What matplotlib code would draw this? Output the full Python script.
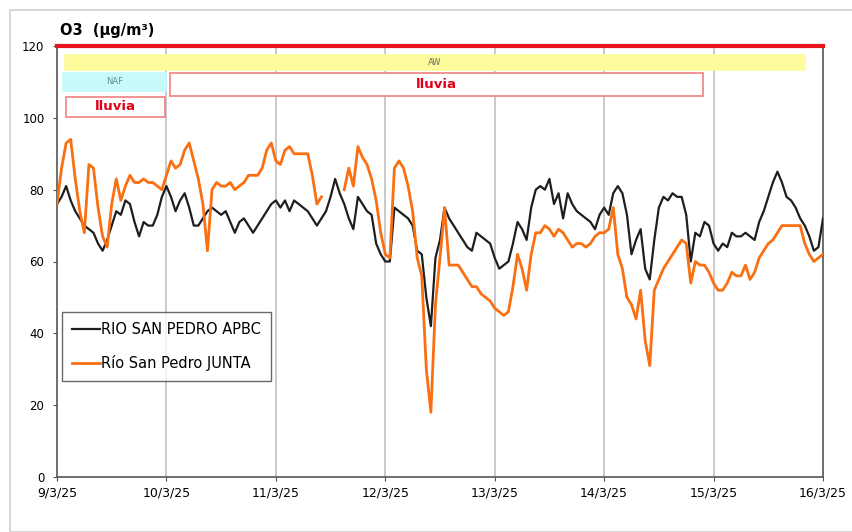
import matplotlib
matplotlib.use("Agg")
import matplotlib.pyplot as plt
import matplotlib.dates as mdates
from matplotlib.patches import Rectangle
import numpy as np
import pandas as pd

# hourly O3 values, 9/3/25 00h .. 16/3/25 00h
apbc = [76, 78, 81, 77, 74, 72, 70, 69, 68, 65, 63, 66, 70, 74, 73, 77, 76, 71, 67, 71, 70, 70, 73, 78,
        81, 78, 74, 77, 79, 75, 70, 70, 72, 74, 75, 74, 73, 74, 71, 68, 71, 72, 70, 68, 70, 72, 74, 76,
        77, 75, 77, 74, 77, 76, 75, 74, 72, 70, 72, 74, 78, 83, 79, 76, 72, 69, 78, 76, 74, 73, 65, 62,
        60, 60, 75, 74, 73, 72, 70, 63, 62, 50, 42, 61, 66, 75, 72, 70, 68, 66, 64, 63, 68, 67, 66, 65,
        61, 58, 59, 60, 65, 71, 69, 66, 75, 80, 81, 80, 83, 76, 79, 72, 79, 76, 74, 73, 72, 71, 69, 73,
        75, 73, 79, 81, 79, 73, 62, 66, 69, 58, 55, 66, 75, 78, 77, 79, 78, 78, 73, 60, 68, 67, 71, 70,
        65, 63, 65, 64, 68, 67, 67, 68, 67, 66, 71, 74, 78, 82, 85, 82, 78, 77, 75, 72, 70, 67, 63, 64,
        72]
junta = [76, 86, 93, 94, 83, 74, 68, 87, 86, 75, 67, 64, 76, 83, 77, 81, 84, 82, 82, 83, 82, 82, 81, 80,
         84, 88, 86, 87, 91, 93, 88, 83, 76, 63, 80, 82, 81, 81, 82, 80, 81, 82, 84, 84, 84, 86, 91, 93,
         88, 87, 91, 92, 90, 90, 90, 90, 84, 76, 78, None, None, None, None, 80, 86, 81, 92, 89, 87, 83, 77, 68,
         62, 61, 86, 88, 86, 81, 74, 61, 56, 30, 18, 48, 61, 75, 59, 59, 59, 57, 55, 53, 53, 51, 50, 49,
         47, 46, 45, 46, 53, 62, 58, 52, 62, 68, 68, 70, 69, 67, 69, 68, 66, 64, 65, 65, 64, 65, 67, 68,
         68, 69, 75, 62, 58, 50, 48, 44, 52, 38, 31, 52, 55, 58, 60, 62, 64, 66, 65, 54, 60, 59, 59, 57,
         54, 52, 52, 54, 57, 56, 56, 59, 55, 57, 61, 63, 65, 66, 68, 70, 70, 70, 70, 70, 65, 62, 60, 61,
         62]
day_labels = ["9/3/25", "10/3/25", "11/3/25", "12/3/25", "13/3/25", "14/3/25", "15/3/25", "16/3/25"]
limit = 120

# episodes: (start, end, y_low, y_high, label, face, edge, text colour, bold)
episodes = [
    ("2025-03-09 01:45", "2025-03-15 20:00", 113.4, 117.5, "AW", "#fdfb9c", "#fdfb9c", "#666666", False),
    ("2025-03-09 01:15", "2025-03-10 00:00", 107.5, 112.5, "NAF", "#c8fafc", "#c8fafc", "#6a8a8a", False),
    ("2025-03-10 00:50", "2025-03-14 21:40", 106.0, 112.5, "lluvia", "white", "#f08080", "#e0001a", True),
    ("2025-03-09 02:00", "2025-03-09 23:40", 100.3, 105.8, "lluvia", "white", "#f08080", "#e0001a", True),
]

times = pd.date_range("2025-03-09 00:00", periods=len(apbc), freq="h")
s1 = np.array(apbc, dtype=float)
s2 = np.array([np.nan if v is None else v for v in junta], dtype=float)

fig = plt.figure(figsize=(8.53, 5.32), dpi=100)
fig.patches.append(Rectangle((10 / 853, 0), 1, 1 - 10 / 532, transform=fig.transFigure,
                             fill=False, edgecolor="#d0d0d0", linewidth=1.2))
ax = fig.add_axes([57 / 853, 55 / 532, 766 / 853, 431 / 532])

days = pd.date_range("2025-03-09", periods=8, freq="D")
for d in days[1:-1]:
    ax.axvline(d, color="#c0c0c0", linewidth=1.2, zorder=1)

ax.plot(times, s1, color="#1e1e1e", linewidth=1.6, label="RIO SAN PEDRO APBC", zorder=3)
ax.plot(times, s2, color="#f96f12", linewidth=2.0, label="Río San Pedro JUNTA", zorder=3)
ax.axhline(limit, color="#e8141c", linewidth=3, zorder=4, clip_on=False)

for start, end, y0, y1, txt, face, edge, tc, bold in episodes:
    x0 = mdates.date2num(pd.Timestamp(start))
    x1 = mdates.date2num(pd.Timestamp(end))
    ax.add_patch(Rectangle((x0, y0), x1 - x0, y1 - y0, facecolor=face, edgecolor=edge,
                           linewidth=1.2, zorder=2))
    ax.text((x0 + x1) / 2, (y0 + y1) / 2, txt, ha="center", va="center", zorder=5,
            color=tc, fontsize=9.5 if bold else 6,
            fontweight="bold" if bold else "normal")

ax.set_xlim(days[0], days[-1])
ax.set_ylim(0, 120)
ax.set_yticks(range(0, 121, 20))
ax.set_xticks(days)
ax.set_xticklabels(day_labels, family=["Liberation Sans Narrow", "DejaVu Sans"], fontsize=9)
ax.tick_params(axis="y", labelsize=8.5, length=3, color="#555555", pad=6)
ax.tick_params(axis="x", length=3, color="#555555", pad=4)
for side in ["left", "bottom", "right", "top"]:
    ax.spines[side].set_color("#555555")
    ax.spines[side].set_linewidth(1.2)

fig.text(60 / 853, 1 - 30 / 532, "O3  (µg/m³)", fontsize=10.5, fontweight="bold", va="center")

leg = ax.legend(loc="upper left", bbox_to_anchor=(0.0065, 0.383), borderaxespad=0,
                frameon=True, fancybox=False, edgecolor="#444444", fontsize=10.5,
                handlelength=1.9, handletextpad=0.1, borderpad=0.7, labelspacing=1.2)
leg.get_frame().set_linewidth(1.0)

fig.savefig("out.png", dpi=100)
